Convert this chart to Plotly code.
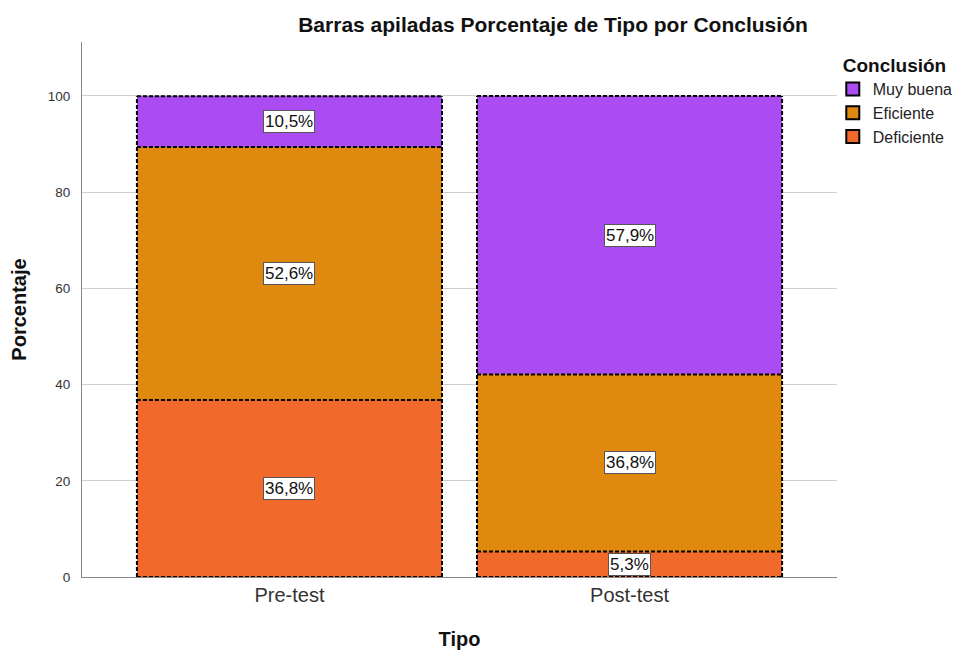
import plotly.graph_objects as go

categories = ["Pre-test", "Post-test"]
series_names = ["Deficiente", "Eficiente", "Muy buena"]
deficiente = [36.8, 5.3]
eficiente = [52.6, 36.8]
muy_buena = [10.5, 57.9]
labels_def = ["36,8%", "5,3%"]
labels_efi = ["52,6%", "36,8%"]
labels_muy = ["10,5%", "57,9%"]
y_ticks = [0, 20, 40, 60, 80, 100]

colors = {"Deficiente": "#F2692C", "Eficiente": "#DF890F", "Muy buena": "#AA4CF1"}
values = {"Deficiente": deficiente, "Eficiente": eficiente, "Muy buena": muy_buena}
labels = {"Deficiente": labels_def, "Eficiente": labels_efi, "Muy buena": labels_muy}

xpos = list(range(len(categories)))
bar_w = 0.897
dash_line = dict(color="black", width=2, dash="4px,2px")

fig = go.Figure()
shapes = []
annotations = []
base = [0.0] * len(categories)
for name in series_names:
    vals = values[name]
    fig.add_trace(go.Bar(
        x=xpos, y=vals, name=name, width=bar_w, showlegend=False,
        marker=dict(color=colors[name], line=dict(width=0)),
        hoverinfo="skip",
    ))
    for i, v in enumerate(vals):
        top = base[i] + v
        # dashed top edge of this segment
        shapes.append(dict(type="line", xref="x", yref="y",
                           x0=xpos[i] - bar_w / 2, x1=xpos[i] + bar_w / 2,
                           y0=top, y1=top, line=dash_line, layer="above"))
        annotations.append(dict(x=xpos[i], y=base[i] + v / 2, xref="x", yref="y",
                                text=labels[name][i], showarrow=False,
                                font=dict(family="Arial", size=17, color="#111"),
                                bgcolor="white", bordercolor="#555", borderwidth=1,
                                borderpad=1))
        base[i] = top

# dashed sides and bottom of each full bar
for i in range(len(categories)):
    for xx in (xpos[i] - bar_w / 2, xpos[i] + bar_w / 2):
        shapes.append(dict(type="line", xref="x", yref="y", x0=xx, x1=xx,
                           y0=0, y1=base[i], line=dash_line, layer="above"))
    shapes.append(dict(type="line", xref="x", yref="y",
                       x0=xpos[i] - bar_w / 2, x1=xpos[i] + bar_w / 2,
                       y0=0, y1=0, line=dash_line, layer="above"))

# legend-only entries (square swatches with dark border)
for name in series_names:
    fig.add_trace(go.Scatter(
        x=[None], y=[None], mode="markers", name=name,
        marker=dict(symbol="square", size=13, color=colors[name],
                    line=dict(color="black", width=2)),
    ))

# page body has an 8px margin: the figure is laid out 8px up/left of screen coords
W, H = 956, 642
fig.update_layout(
    barmode="stack",
    width=W, height=H,
    margin=dict(l=74, r=127, t=34, b=73, autoexpand=False),
    paper_bgcolor="white", plot_bgcolor="white",
    font=dict(family="Arial", color="#222"),
    title=dict(text="<b>Barras apiladas Porcentaje de Tipo por Conclusión</b>",
               x=545 / W, xanchor="center", y=1 - 17 / H, yanchor="middle",
               font=dict(size=21, color="#111")),
    xaxis=dict(tickvals=xpos, ticktext=categories, range=[-0.61, 1.61],
               showline=True, linecolor="#888", linewidth=1, ticks="",
               tickfont=dict(size=20, color="#333"), automargin=False,
               title=dict(text="<b>Tipo</b>", font=dict(size=20, color="#111"), standoff=29),
               showgrid=False),
    yaxis=dict(range=[0, 111.2], tickvals=y_ticks, showline=True, linecolor="#888",
               linewidth=1, ticks="", ticklabelstandoff=8, automargin=False,
               tickfont=dict(size=13.5, color="#333"),
               gridcolor="#CFCFCF", gridwidth=1, zeroline=False,
               title=dict(text="<b>Porcentaje</b>", font=dict(size=20, color="#111"), standoff=22)),
    legend=dict(title=dict(text="<b>Conclusión</b>", font=dict(size=19, color="#111")),
                traceorder="reversed", x=1.005, y=0.99, xanchor="left", yanchor="top",
                font=dict(size=16, color="#222"), itemwidth=30, tracegroupgap=0,
                indentation=-8),
    shapes=shapes,
    annotations=annotations,
)

fig.write_html("out.html")
